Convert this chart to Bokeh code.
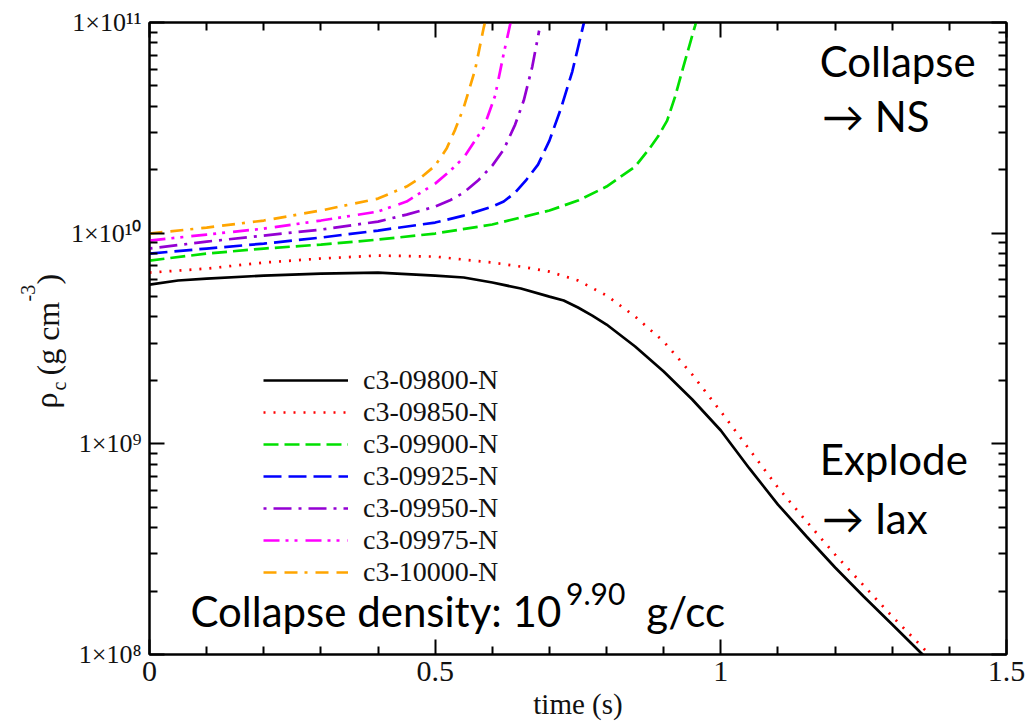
from bokeh.plotting import figure
from bokeh.layouts import row
from bokeh.models import (Range1d, FixedTicker, LinearAxis, LogAxis,
                          CustomJSTickFormatter)
from bokeh.core.properties import value
from bokeh.embed import file_html
from bokeh.resources import INLINE

# Central density (g cm^-3) versus time (s) for each model
time_09800 = [0, 0.05, 0.1, 0.2, 0.3, 0.4, 0.5, 0.55, 0.6, 0.65, 0.7, 0.725, 0.75,
              0.775, 0.8, 0.85, 0.9, 0.95, 1.0, 1.05, 1.1, 1.15, 1.2, 1.25, 1.3,
              1.35, 1.36]
rho_09800 = [5.70e9, 5.96e9, 6.09e9, 6.29e9, 6.43e9, 6.50e9, 6.29e9, 6.16e9, 5.83e9,
             5.46e9, 5.00e9, 4.787e9, 4.436e9, 4.063e9, 3.684e9, 2.896e9, 2.203e9,
             1.623e9, 1.157e9, 7.64e8, 5.15e8, 3.631e8, 2.588e8, 1.885e8, 1.388e8,
             1.02e8, 9.6e7]

time_09850 = [0, 0.1, 0.2, 0.3, 0.4, 0.5, 0.6, 0.65, 0.7, 0.75, 0.8, 0.85, 0.9,
              0.95, 1.0, 1.05, 1.1, 1.15, 1.2, 1.25, 1.3, 1.35, 1.365, 1.375]
rho_09850 = [6.50e9, 6.79e9, 7.25e9, 7.58e9, 7.83e9, 7.74e9, 7.25e9, 6.94e9, 6.57e9,
             5.96e9, 5.06e9, 4.02e9, 3.06e9, 2.133e9, 1.423e9, 9.40e8, 6.20e8, 4.28e8,
             2.98e8, 2.126e8, 1.515e8, 1.103e8, 1.0e8, 9.6e7]

time_09900 = [0, 0.1, 0.2, 0.3, 0.4, 0.5, 0.6, 0.7, 0.75, 0.8, 0.85, 0.875, 0.89,
              0.906, 0.92, 0.934, 0.945, 0.955, 0.962]
rho_09900 = [7.41e9, 8.00e9, 8.45e9, 8.83e9, 9.32e9, 9.96e9, 1.099e10, 1.281e10,
             1.428e10, 1.664e10, 2.07e10, 2.52e10, 2.874e10, 3.422e10, 4.45e10,
             6.11e10, 7.77e10, 9.67e10, 1.139e11]

time_09925 = [0, 0.1, 0.2, 0.3, 0.4, 0.5, 0.55, 0.6, 0.62, 0.64, 0.66, 0.68, 0.7,
              0.72, 0.74, 0.76, 0.765]
rho_09925 = [8.00e9, 8.45e9, 8.92e9, 9.53e9, 1.029e10, 1.123e10, 1.212e10, 1.337e10,
             1.413e10, 1.558e10, 1.797e10, 2.116e10, 2.751e10, 3.90e10, 5.85e10,
             9.88e10, 1.139e11]

time_09950 = [0, 0.1, 0.2, 0.3, 0.4, 0.45, 0.5, 0.525, 0.55, 0.575, 0.6, 0.62,
              0.64, 0.655, 0.67, 0.682]
rho_09950 = [8.45e9, 9.12e9, 9.74e9, 1.040e10, 1.135e10, 1.225e10, 1.337e10,
             1.428e10, 1.558e10, 1.777e10, 2.093e10, 2.493e10, 3.277e10, 4.26e10,
             6.177e10, 9.15e10]

time_09975 = [0, 0.1, 0.2, 0.3, 0.4, 0.45, 0.5, 0.525, 0.55, 0.585, 0.605, 0.62,
              0.632]
rho_09975 = [9.22e9, 9.85e9, 1.051e10, 1.148e10, 1.266e10, 1.413e10, 1.719e10,
             1.961e10, 2.285e10, 3.17e10, 4.50e10, 7.12e10, 1.0e11]

time_10000 = [0, 0.1, 0.2, 0.3, 0.4, 0.45, 0.475, 0.5, 0.52, 0.535, 0.55, 0.57,
              0.585, 0.592]
rho_10000 = [9.96e9, 1.063e10, 1.148e10, 1.281e10, 1.459e10, 1.664e10, 1.836e10,
             2.093e10, 2.52e10, 3.102e10, 3.95e10, 5.98e10, 9.46e10, 1.139e11]

model_names = ["c3-09800-N", "c3-09850-N", "c3-09900-N", "c3-09925-N",
               "c3-09950-N", "c3-09975-N", "c3-10000-N"]
model_times = [time_09800, time_09850, time_09900, time_09925,
               time_09950, time_09975, time_10000]
model_rhos = [rho_09800, rho_09850, rho_09900, rho_09925,
              rho_09950, rho_09975, rho_10000]
model_colors = ["#000000", "#ff0000", "#00e000", "#0000ff",
                "#9400d3", "#ff00ff", "#ffa500"]
model_dashes = ["solid", "2 8", "15 6", "18 7", "3 7 18 7",
                "16 6 3 6 3 8", "13 8 13 7 3 8"]
model_widths = [2.7, 2.7, 2.7, 2.7, 2.7, 2.7, 2.7]

x_major = [0, 0.5, 1.0, 1.5]
x_minor = [0.1, 0.2, 0.3, 0.4, 0.6, 0.7, 0.8, 0.9, 1.1, 1.2, 1.3, 1.4]
y_major = [1e8, 1e9, 1e10, 1e11]
y_minor = [k * d for d in (1e8, 1e9, 1e10) for k in range(2, 10)]

SERIF = "Liberation Serif"
SANS = "Lato"
INK = "#111111"
LEFT_W = 68  # width of the strip that carries the rotated density label

p = figure(width=1030 - LEFT_W, height=724,
           x_range=Range1d(0, 1.5), y_range=Range1d(1e8, 1e11),
           y_axis_type="log", output_backend="svg", toolbar_location=None,
           min_border_left=148 - LEFT_W, min_border_right=24,
           min_border_top=22, min_border_bottom=70)
p.xgrid.visible = False
p.ygrid.visible = False
p.outline_line_color = "#000000"
p.outline_line_width = 2
p.background_fill_color = "white"
p.border_fill_color = "white"

x_ticker = FixedTicker(ticks=x_major, minor_ticks=x_minor)
y_ticker = FixedTicker(ticks=y_major, minor_ticks=y_minor)

x_fmt = CustomJSTickFormatter(code="return tick.toString();")
y_fmt = CustomJSTickFormatter(code="""
const sup = {"0":"\u2070","1":"\u00b9","2":"\u00b2","3":"\u00b3","4":"\u2074",
             "5":"\u2075","6":"\u2076","7":"\u2077","8":"\u2078","9":"\u2079"};
const e = Math.round(Math.log10(tick));
return "1\u00d710" + String(e).split("").map(c => sup[c]).join("");
""")
blank_fmt = CustomJSTickFormatter(code="return '';")


def style_axis(ax):
    ax.axis_line_width = 2
    ax.axis_line_color = "#000000"
    ax.major_tick_in = 15
    ax.major_tick_out = 0
    ax.minor_tick_in = 8
    ax.minor_tick_out = 0
    ax.major_tick_line_width = 2
    ax.minor_tick_line_width = 2
    ax.major_tick_line_color = "#000000"
    ax.minor_tick_line_color = "#000000"


xb = p.xaxis[0]
xb.ticker = x_ticker
xb.formatter = x_fmt
style_axis(xb)
xb.major_label_text_font = SERIF
xb.major_label_text_font_size = "30px"
xb.major_label_text_color = INK
xb.major_label_standoff = 7
xb.axis_label = "time (s)"
xb.axis_label_text_font = SERIF
xb.axis_label_text_font_size = "29px"
xb.axis_label_text_font_style = "normal"
xb.axis_label_text_color = INK
xb.axis_label_standoff = 4

yl = p.yaxis[0]
yl.ticker = y_ticker
yl.formatter = y_fmt
style_axis(yl)
yl.major_label_text_font = SERIF
yl.major_label_text_font_size = "26px"
yl.major_label_text_color = INK
yl.major_label_standoff = 8

xt = LinearAxis(ticker=x_ticker, formatter=blank_fmt,
                major_label_text_font_size="0px", major_label_standoff=0)
style_axis(xt)
p.add_layout(xt, "above")

yr = LogAxis(ticker=y_ticker, formatter=blank_fmt,
             major_label_text_font_size="0px", major_label_standoff=0)
style_axis(yr)
p.add_layout(yr, "right")

for name, t, rho, col, dash, lw in zip(model_names, model_times, model_rhos,
                                       model_colors, model_dashes, model_widths):
    p.line(t, rho, line_color=col, line_dash=dash, line_width=lw,
           legend_label=name)

lg = p.legend[0]
lg.location = (114, 66)
lg.background_fill_alpha = 0
lg.border_line_alpha = 0
lg.padding = 0
lg.margin = 0
lg.spacing = 0
lg.glyph_width = 85
lg.glyph_height = 20
lg.label_height = 20
lg.label_standoff = 15
lg.label_text_font = SERIF
lg.label_text_font_size = "28px"
lg.label_text_color = INK

# Outcome annotations inside the frame
note = dict(text_font=value(SANS), text_font_size="42px",
            text_baseline="alphabetic", text_color="black")
p.text(x=[1.173], y=[6.59e10], text=["Collapse"], **note)
p.text(x=[1.177], y=[3.58e10], text=["\u2192 NS"], **note)
p.text(x=[1.173], y=[8.43e8], text=["Explode"], **note)
p.text(x=[1.177], y=[4.47e8], text=["\u2192 Iax"], **note)
p.text(x=[0.0716], y=[1.60e8], text=["Collapse density: 10"], **note)
p.text(x=[0.7290], y=[1.927e8], text=["9.90"], text_font=value(SANS),
       text_font_size="30px", text_baseline="alphabetic", text_color="black")
p.text(x=[0.8696], y=[1.60e8], text=["g/cc"], **note)

# Rotated density label in its own strip; it shares the density scale so
# the strip's frame lines up with the main frame
lab = figure(width=LEFT_W, height=724, x_range=Range1d(0, LEFT_W),
             y_range=Range1d(1e8, 1e11), y_axis_type="log",
             output_backend="svg", toolbar_location=None,
             x_axis_location=None, y_axis_location=None,
             min_border_left=0, min_border_right=0, min_border_top=22,
             min_border_bottom=70, outline_line_color=None)
lab.xgrid.visible = False
lab.ygrid.visible = False
lab.border_fill_color = "white"
lab.background_fill_color = "white"

ang = 1.5707963
big = dict(angle=ang, text_font=value(SERIF), text_font_size="32px",
           text_baseline="alphabetic", text_color=INK)
small = dict(angle=ang, text_font=value(SERIF), text_font_size="20px",
             text_baseline="alphabetic", text_color=INK)
lab.text(x=[45], y=[1.471e9], text=["\u03c1"], **big)
lab.text(x=[58], y=[1.791e9], text=["c"], **small)
lab.text(x=[47], y=[2.11e9], text=["(g cm"], **big)
lab.text(x=[27], y=[4.74e9], text=["-3"], **small)
lab.text(x=[47], y=[5.70e9], text=[")"], **big)

layout = row(lab, p, spacing=0)
open("out.html", "w").write(file_html(layout, INLINE))
